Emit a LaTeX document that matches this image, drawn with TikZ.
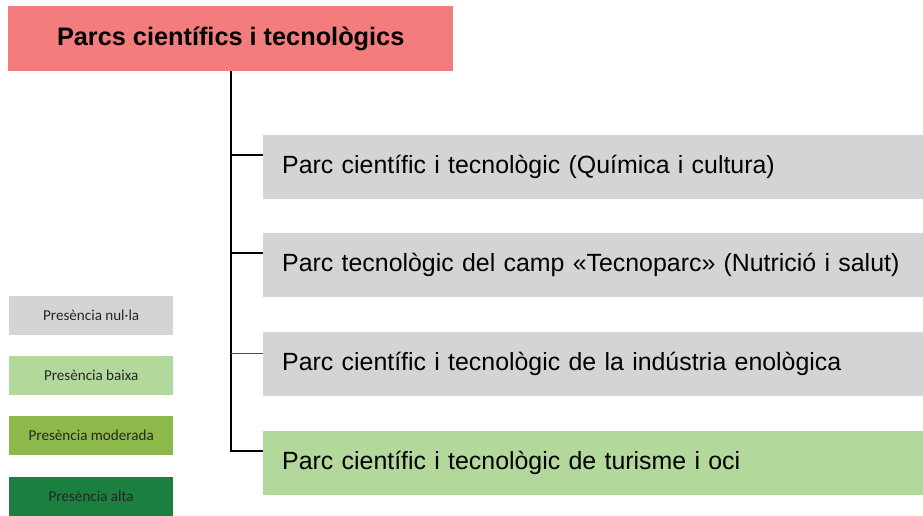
\documentclass[tikz,border=0pt]{standalone}
\usepackage{fontspec}
\setmainfont{Liberation Sans}
\newfontfamily\legendfont{Carlito}
\usepackage{tikz}
\usetikzlibrary{positioning,calc}

\definecolor{titlered}{HTML}{F37C7C}
\definecolor{nullgray}{HTML}{D4D4D6}
\definecolor{lowgreen}{HTML}{B3D89C}
\definecolor{midgreen}{HTML}{8DB84A}
\definecolor{highgreen}{HTML}{1B7F40}

\begin{document}
\begin{tikzpicture}[
            x=1pt,y=1pt,
            parc/.style={anchor=north west,minimum width=660pt,minimum height=64pt,
                text width=622pt,inner xsep=19pt,align=left,font=\fontsize{24.9}{28}\selectfont},
            llegenda/.style={anchor=north west,minimum width=164pt,minimum height=39pt,
                inner sep=0pt,text=black!85,font=\legendfont\fontsize{15.1}{17}\selectfont},
            branca/.style={line width=1.6pt}
        ]
            \useasboundingbox (0,0) rectangle (923,-516);

            \node[anchor=north west,fill=titlered,minimum width=445pt,minimum height=65pt,
                font=\bfseries\fontsize{25.3}{29}\selectfont] (titol) at (8,-6) {Parcs científics i tecnològics};

            \node[parc,fill=nullgray]  (p1) at (263,-135) {Parc científic i tecnològic (Química i cultura)};
            \node[parc,fill=nullgray]  (p2) at (263,-233) {Parc tecnològic del camp «Tecnoparc» (Nutrició i salut)};
            \node[parc,fill=nullgray]  (p3) at (263,-332) {Parc científic i tecnològic de la indústria enològica};
            \node[parc,fill=lowgreen]  (p4) at (263,-431) {Parc científic i tecnològic de turisme i oci};

            \node[llegenda,fill=nullgray]  (nulla)    at (9,-296) {Presència nul·la};
            \node[llegenda,fill=lowgreen]  (baixa)    at (9,-356) {Presència baixa};
            \node[llegenda,fill=midgreen]  (moderada) at (9,-416) {Presència moderada};
            \node[llegenda,fill=highgreen] (alta)     at (9,-477) {Presència alta};

            \coordinate (b1) at (231,-155);
            \coordinate (b2) at (231,-253);
            \coordinate (b3) at (231,-353);
            \coordinate (b4) at (231,-451);

            \begin{scope}[branca]
                \draw (titol.south -| b1) -- (b4) -- (b4 -| p4.west);
                \draw (b1) -- (b1 -| p1.west);
                \draw (b2) -- (b2 -| p2.west);
                \draw[line width=.8pt,black!70] (b3) -- (b3 -| p3.west);
            \end{scope}
        \end{tikzpicture}
\end{document}
